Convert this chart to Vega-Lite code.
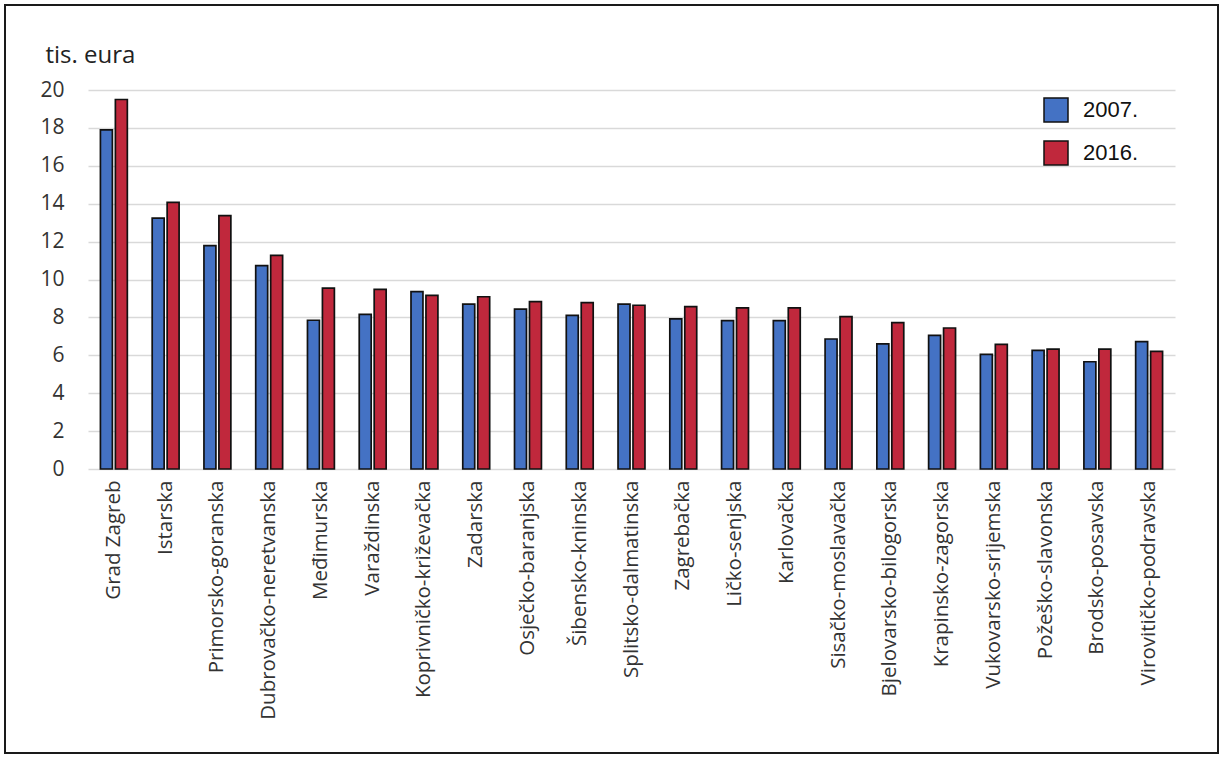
{
  "$schema": "https://vega.github.io/schema/vega-lite/v6.json",
  "width": 1213,
  "height": 748,
  "autosize": {"type": "none"},
  "padding": {"left": 5, "top": 5, "right": 5, "bottom": 6},
  "background": "white",
  "data": {
    "values": [
      {"zupanija": "Grad Zagreb", "godina": "2007.", "vrijednost": 17.9},
      {"zupanija": "Grad Zagreb", "godina": "2016.", "vrijednost": 19.5},
      {"zupanija": "Istarska", "godina": "2007.", "vrijednost": 13.24},
      {"zupanija": "Istarska", "godina": "2016.", "vrijednost": 14.07},
      {"zupanija": "Primorsko-goranska", "godina": "2007.", "vrijednost": 11.79},
      {"zupanija": "Primorsko-goranska", "godina": "2016.", "vrijednost": 13.37},
      {"zupanija": "Dubrovačko-neretvanska", "godina": "2007.", "vrijednost": 10.73},
      {"zupanija": "Dubrovačko-neretvanska", "godina": "2016.", "vrijednost": 11.27},
      {"zupanija": "Međimurska", "godina": "2007.", "vrijednost": 7.85},
      {"zupanija": "Međimurska", "godina": "2016.", "vrijednost": 9.55},
      {"zupanija": "Varaždinska", "godina": "2007.", "vrijednost": 8.16},
      {"zupanija": "Varaždinska", "godina": "2016.", "vrijednost": 9.48},
      {"zupanija": "Koprivničko-križevačka", "godina": "2007.", "vrijednost": 9.36},
      {"zupanija": "Koprivničko-križevačka", "godina": "2016.", "vrijednost": 9.16},
      {"zupanija": "Zadarska", "godina": "2007.", "vrijednost": 8.7},
      {"zupanija": "Zadarska", "godina": "2016.", "vrijednost": 9.09},
      {"zupanija": "Osječko-baranjska", "godina": "2007.", "vrijednost": 8.44},
      {"zupanija": "Osječko-baranjska", "godina": "2016.", "vrijednost": 8.83},
      {"zupanija": "Šibensko-kninska", "godina": "2007.", "vrijednost": 8.11},
      {"zupanija": "Šibensko-kninska", "godina": "2016.", "vrijednost": 8.78},
      {"zupanija": "Splitsko-dalmatinska", "godina": "2007.", "vrijednost": 8.7},
      {"zupanija": "Splitsko-dalmatinska", "godina": "2016.", "vrijednost": 8.64},
      {"zupanija": "Zagrebačka", "godina": "2007.", "vrijednost": 7.92},
      {"zupanija": "Zagrebačka", "godina": "2016.", "vrijednost": 8.57},
      {"zupanija": "Ličko-senjska", "godina": "2007.", "vrijednost": 7.83},
      {"zupanija": "Ličko-senjska", "godina": "2016.", "vrijednost": 8.5},
      {"zupanija": "Karlovačka", "godina": "2007.", "vrijednost": 7.83},
      {"zupanija": "Karlovačka", "godina": "2016.", "vrijednost": 8.5},
      {"zupanija": "Sisačko-moslavačka", "godina": "2007.", "vrijednost": 6.86},
      {"zupanija": "Sisačko-moslavačka", "godina": "2016.", "vrijednost": 8.04},
      {"zupanija": "Bjelovarsko-bilogorska", "godina": "2007.", "vrijednost": 6.6},
      {"zupanija": "Bjelovarsko-bilogorska", "godina": "2016.", "vrijednost": 7.72},
      {"zupanija": "Krapinsko-zagorska", "godina": "2007.", "vrijednost": 7.05},
      {"zupanija": "Krapinsko-zagorska", "godina": "2016.", "vrijednost": 7.44},
      {"zupanija": "Vukovarsko-srijemska", "godina": "2007.", "vrijednost": 6.05},
      {"zupanija": "Vukovarsko-srijemska", "godina": "2016.", "vrijednost": 6.58},
      {"zupanija": "Požeško-slavonska", "godina": "2007.", "vrijednost": 6.26},
      {"zupanija": "Požeško-slavonska", "godina": "2016.", "vrijednost": 6.33},
      {"zupanija": "Brodsko-posavska", "godina": "2007.", "vrijednost": 5.66},
      {"zupanija": "Brodsko-posavska", "godina": "2016.", "vrijednost": 6.33},
      {"zupanija": "Virovitičko-podravska", "godina": "2007.", "vrijednost": 6.72},
      {"zupanija": "Virovitičko-podravska", "godina": "2016.", "vrijednost": 6.21}
    ]
  },
  "mark": {"type": "bar", "stroke": "#111111", "strokeWidth": 1.7},
  "encoding": {
    "x": {
      "field": "zupanija",
      "type": "nominal",
      "sort": null,
      "scale": {"paddingInner": 0.48, "paddingOuter": 0.24, "range": [83, 1170]},
      "axis": {
        "title": null,
        "offset": -284,
        "labelAngle": -90,
        "labelFont": "Open Sans",
        "labelFontSize": 20.5,
        "labelColor": "#333333",
        "labelPadding": 11,
        "ticks": false,
        "domain": false,
        "grid": false,
        "labelLimit": 300
      }
    },
    "xOffset": {
      "field": "godina",
      "type": "nominal",
      "scale": {"paddingInner": 0.2, "paddingOuter": 0}
    },
    "y": {
      "field": "vrijednost",
      "type": "quantitative",
      "scale": {"domain": [0, 20], "nice": false, "range": [464, 85]},
      "axis": {
        "title": "tis. eura",
        "offset": -83,
        "titleAngle": 0,
        "titleX": -43,
        "titleY": 50,
        "titleAlign": "left",
        "titleBaseline": "middle",
        "titleFont": "Open Sans",
        "titleFontSize": 24,
        "titleFontWeight": "normal",
        "titleColor": "#222222",
        "values": [0, 2, 4, 6, 8, 10, 12, 14, 16, 18, 20],
        "labelFont": "Open Sans",
        "labelFontSize": 21,
        "labelColor": "#333333",
        "labelPadding": 24,
        "ticks": false,
        "domain": false,
        "grid": true,
        "gridColor": "#d9d9d9",
        "gridWidth": 1.5
      }
    },
    "color": {
      "field": "godina",
      "type": "nominal",
      "scale": {"domain": ["2007.", "2016."], "range": ["#4472C4", "#C0283C"]},
      "legend": {
        "title": null,
        "orient": "none",
        "legendX": 1038,
        "legendY": 92,
        "symbolType": "square",
        "symbolSize": 576,
        "symbolStrokeColor": "#111111",
        "symbolStrokeWidth": 1.5,
        "symbolOpacity": 1,
        "labelFont": "Liberation Sans",
        "labelFontSize": 22,
        "labelColor": "#111111",
        "labelOffset": 14,
        "rowPadding": 13
      }
    }
  },
  "config": {
    "view": {"stroke": "#1a1a1a", "strokeWidth": 2}
  }
}
